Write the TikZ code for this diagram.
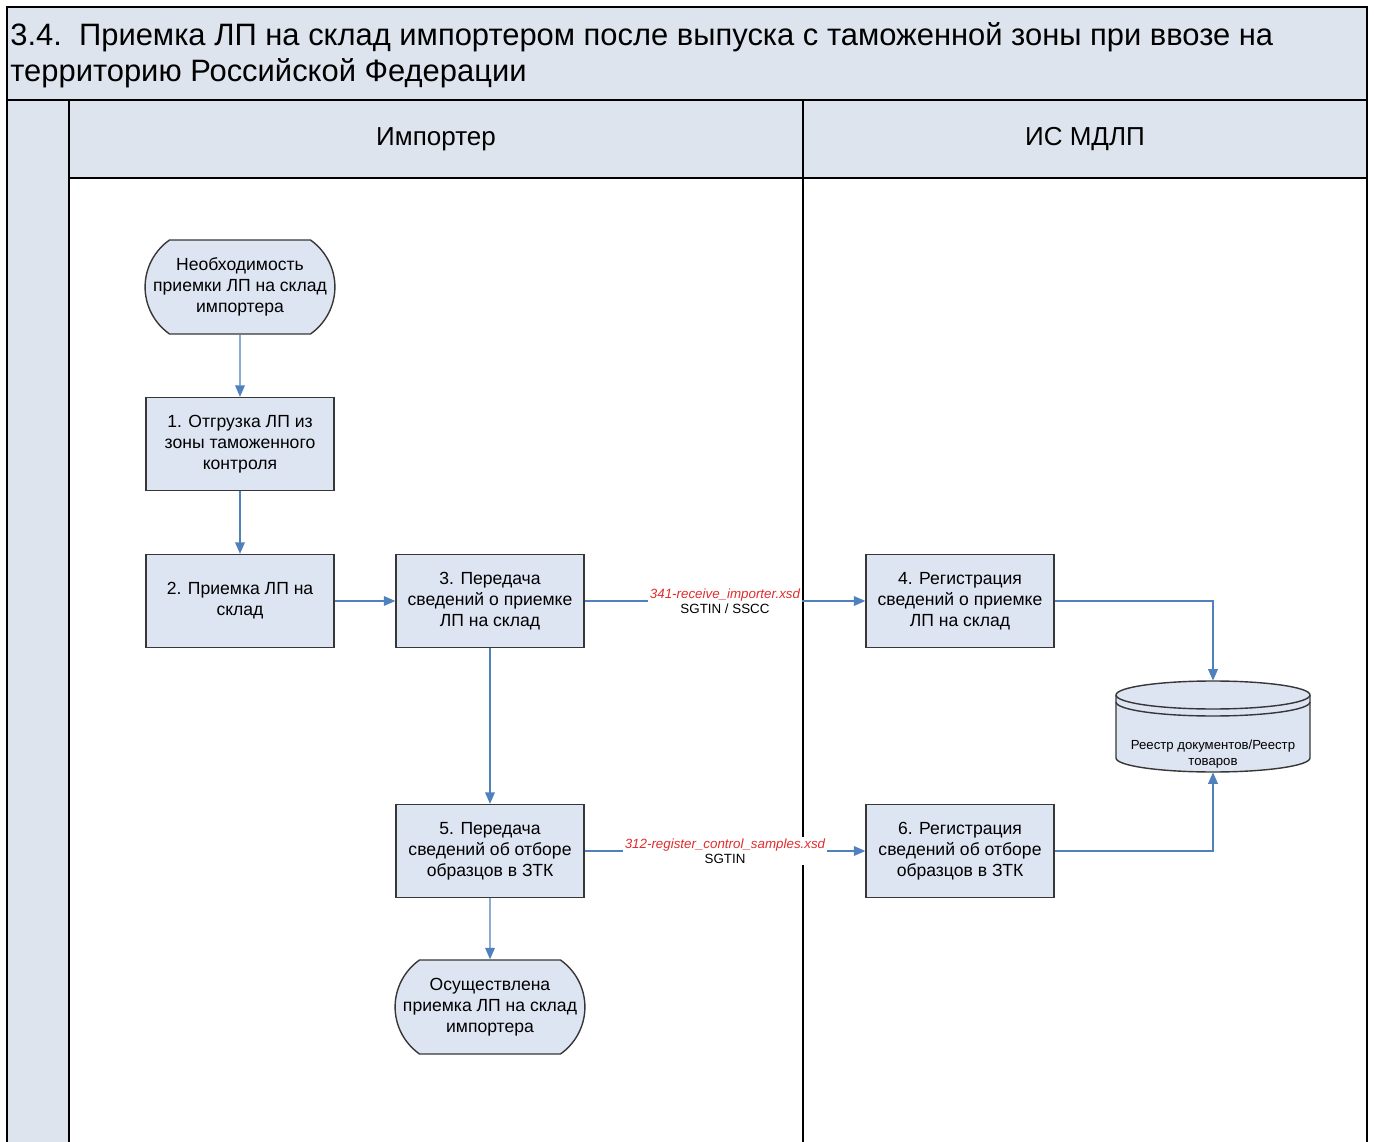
\documentclass[tikz,border=0pt]{standalone}
\usepackage{fontspec}
\setmainfont{Liberation Sans}
\usetikzlibrary{arrows.meta, shapes.misc, positioning, calc}
\definecolor{headfill}{RGB}{222,228,238}
\definecolor{nodefill}{RGB}{222,229,242}
\definecolor{boxline}{RGB}{55,55,55}
\definecolor{flowblue}{RGB}{79,129,189}
\definecolor{xsdred}{RGB}{225,45,45}

\tikzset{
    box/.style={draw=boxline, fill=nodefill, line width=0.8pt, minimum width=3.76cm,
        minimum height=1.86cm, align=center, inner sep=2pt,
        font=\fontsize{10}{12}\selectfont},
    term/.style={box, rounded rectangle, rounded rectangle arc length=110, inner xsep=0pt,
        minimum width=3.72cm, minimum height=1.88cm},
    flow/.style={draw=flowblue, line width=0.7pt, -{Triangle[length=6.5pt,width=5.5pt]}},
    xsd/.style={fill=white, inner sep=1pt, align=center, font=\fontsize{7.6}{8.6}\selectfont},
    lanename/.style={font=\fontsize{14.8}{16}\selectfont},
}

\begin{document}
\begin{tikzpicture}[x=0.02cm, y=-0.02cm]

\useasboundingbox (0,0) rectangle (1374,1142);

% pool and lanes
\draw[fill=headfill, line width=1.2pt] (7,7) rectangle (1367,100);
\fill[white] (69,178) rectangle (1367,1142);
\fill[headfill] (7,100) rectangle (69,1142);
\fill[headfill] (69,100) rectangle (1367,178);
\draw[line width=1.2pt] (7,1142) -- (7,100) -- (1367,100) -- (1367,1142);
\draw[line width=1.2pt] (69,100) -- (69,1142);
\draw[line width=0.8pt] (69,178) -- (1367,178);
\draw[line width=0.8pt] (803,100) -- (803,1142);

\node[anchor=west, align=left, inner sep=0, font=\fontsize{17.6}{20.6}\selectfont] (title) at (10,55)
    {3.4.~~Приемка ЛП на склад импортером после выпуска с таможенной зоны при ввозе на\\
     территорию Российской Федерации};
\node[lanename] (importer) at (436,139) {Импортер};
\node[lanename] (mdlp) at (1085,139) {ИС МДЛП};

% steps
\node[term] (start) at (240,287) {Необходимость\\приемки ЛП на склад\\импортера};
\node[box] (s1) at (240,444) {1. Отгрузка ЛП из\\зоны таможенного\\контроля};
\node[box] (s2) at (240,601) {2. Приемка ЛП на\\склад};
\node[box] (s3) at (490,601) {3. Передача\\сведений о приемке\\ЛП на склад};
\node[box] (s4) at (960,601) {4. Регистрация\\сведений о приемке\\ЛП на склад};
\node[box] (s5) at (490,851) {5. Передача\\сведений об отборе\\образцов в ЗТК};
\node[box] (s6) at (960,851) {6. Регистрация\\сведений об отборе\\образцов в ЗТК};
\node[term] (stop) at (490,1007) {Осуществлена\\приемка ЛП на склад\\импортера};

% register
\node[minimum width=3.88cm, minimum height=1.82cm, inner sep=0] (db) at (1213,726.5) {};
\draw[draw=boxline, fill=nodefill, line width=0.8pt] (1116,695) -- (1116,758)
    arc[start angle=180, end angle=360, x radius=1.94cm, y radius=0.28cm] -- (1310,695)
    arc[start angle=0, end angle=180, x radius=1.94cm, y radius=0.28cm] -- cycle;
\draw[draw=boxline, line width=0.8pt] (1116,695)
    arc[start angle=180, end angle=360, x radius=1.94cm, y radius=0.28cm];
\draw[draw=boxline, line width=0.8pt] (1116,702)
    arc[start angle=180, end angle=360, x radius=1.94cm, y radius=0.28cm];
\node[align=center, font=\fontsize{7.5}{9}\selectfont] (dbtext) at (1213,754)
    {Реестр документов/Реестр\\товаров};

% flows
\draw[flow] (start) -- (s1);
\draw[flow] (s1) -- (s2);
\draw[flow] (s2) -- (s3);
\draw[flow] (s3) -- node[xsd] {\textcolor{xsdred}{\itshape 341-receive\_importer.xsd}\\SGTIN / SSCC} (s4);
\draw[flow] (s3) -- (s5);
\draw[flow] (s5) -- node[xsd] {\textcolor{xsdred}{\itshape 312-register\_control\_samples.xsd}\\SGTIN} (s6);
\draw[flow] (s5) -- (stop);
\draw[flow] (s4.east) -| (db.north);
\draw[flow] (s6.east) -| (db.south);

\end{tikzpicture}
\end{document}
